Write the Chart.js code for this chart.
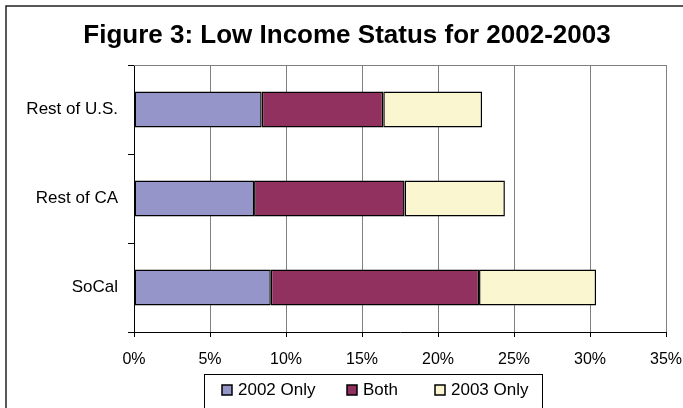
<!DOCTYPE html>
<html>
<head>
<meta charset="utf-8">
<script src="https://cdn.jsdelivr.net/npm/chart.js@4.4.1/dist/chart.umd.min.js"></script>
<style>
  html, body { margin: 0; padding: 0; background: #fff; }
  #wrap { width: 683px; height: 408px; overflow: hidden; }
</style>
</head>
<body>
<div id="wrap"><canvas id="lowIncome" width="683" height="408"></canvas></div>
<script>
const categories = ['Rest of U.S.', 'Rest of CA', 'SoCal'];
const seriesNames = ['2002 Only', 'Both', '2003 Only'];
const only2002 = [8.4, 7.9, 9.0];
const both = [8.0, 9.9, 13.7];
const only2003 = [6.5, 6.6, 7.7];
const xTicks = [0, 5, 10, 15, 20, 25, 30, 35];
const seriesColors = ['#9595c9', '#903160', '#faf7d0'];

const FONT = "Arial, 'Liberation Sans', sans-serif";

// title, outer frame, top border and the boxed legend
const extras = {
    id: 'extras',
    afterDraw(chart) {
        const ctx = chart.ctx;
        const area = chart.chartArea;
        ctx.save();

        // outer frame of the figure
        ctx.strokeStyle = '#222';
        ctx.lineWidth = 1.5;
        ctx.beginPath();
        ctx.moveTo(6, 420);
        ctx.lineTo(6, 6);
        ctx.lineTo(700, 6);
        ctx.stroke();

        // top border of plot area
        ctx.strokeStyle = '#808080';
        ctx.lineWidth = 1;
        ctx.beginPath();
        ctx.moveTo(area.left, area.top + 0.5);
        ctx.lineTo(area.right, area.top + 0.5);
        ctx.stroke();

        ctx.fillStyle = '#000';
        ctx.font = `bold 26px ${FONT}`;
        ctx.textAlign = 'center';
        ctx.textBaseline = 'alphabetic';
        ctx.fillText('Figure 3: Low Income Status for 2002-2003', 347, 43);

        // legend box
        ctx.strokeStyle = '#000';
        ctx.lineWidth = 1;
        ctx.strokeRect(204.5, 374.5, 338, 40);

        const markX = [222, 347, 435];
        ctx.font = `17px ${FONT}`;
        ctx.textAlign = 'left';
        ctx.textBaseline = 'middle';
        chart.data.datasets.forEach((ds, i) => {
            ctx.fillStyle = ds.backgroundColor;
            ctx.fillRect(markX[i], 385, 10, 10);
            ctx.lineWidth = 1.5;
            ctx.strokeRect(markX[i], 385, 10, 10);
            ctx.fillStyle = '#000';
            ctx.fillText(ds.label, markX[i] + 16, 390);
        });
        ctx.restore();
    }
};

new Chart(document.getElementById('lowIncome'), {
    type: 'bar',
    data: {
        labels: categories,
        datasets: [only2002, both, only2003].map((vals, i) => ({
            label: seriesNames[i],
            data: vals,
            backgroundColor: seriesColors[i],
            borderColor: '#000',
            borderWidth: 1.5,
            borderSkipped: false,
            categoryPercentage: 1,
            barPercentage: 0.405
        }))
    },
    options: {
        indexAxis: 'y',
        responsive: false,
        animation: false,
        devicePixelRatio: 1,
        layout: { padding: { top: 65, right: 17, bottom: 0, left: 0 } },
        plugins: {
            legend: { display: false },
            title: { display: false },
            tooltip: { enabled: false }
        },
        scales: {
            x: {
                stacked: true,
                min: 0,
                max: 35,
                afterBuildTicks: (scale) => { scale.ticks = xTicks.map(v => ({ value: v })); },
                afterFit: (scale) => {
                    scale.height = 76;
                    scale.paddingLeft = 0;
                    scale.paddingRight = 0;
                },
                ticks: {
                    callback: (v) => v + '%',
                    color: '#000',
                    font: { family: FONT, size: 16 },
                    padding: 13,
                    maxRotation: 0
                },
                grid: { color: '#808080', tickColor: '#000', tickLength: 5, lineWidth: 1 },
                border: { color: '#000', width: 1 }
            },
            y: {
                stacked: true,
                afterFit: (scale) => {
                    scale.width = 134;
                    scale.paddingTop = 0;
                    scale.paddingBottom = 0;
                },
                ticks: {
                    color: '#000',
                    font: { family: FONT, size: 17 },
                    padding: 10
                },
                grid: { drawOnChartArea: false, offset: true, tickColor: '#000', tickLength: 6 },
                border: { color: '#000', width: 1 }
            }
        }
    },
    plugins: [extras]
});
</script>
</body>
</html>
